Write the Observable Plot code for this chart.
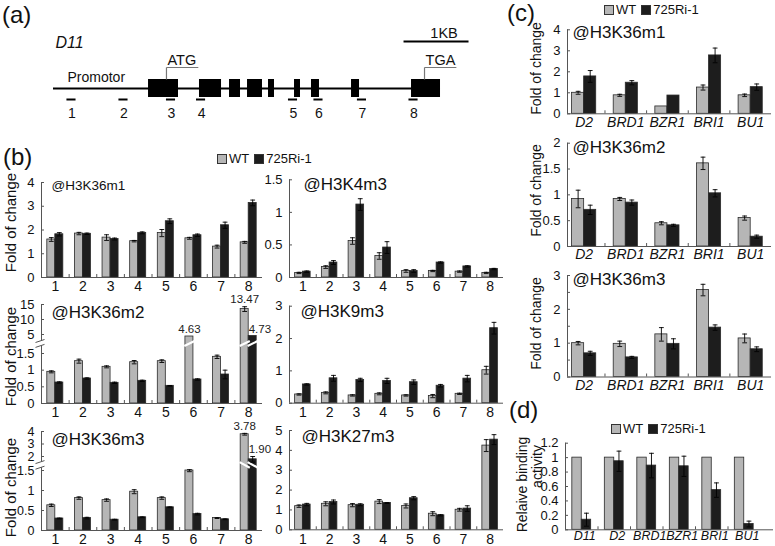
<!DOCTYPE html>
<html>
<head>
<meta charset="utf-8">
<script src="https://cdn.jsdelivr.net/npm/d3@7"></script>
<script src="https://cdn.jsdelivr.net/npm/@observablehq/plot@0.6"></script>
<style>
  body { margin: 0; background: #fff; }
  #fig { position: relative; width: 775px; height: 546px; overflow: hidden; background: #fff;
         font-family: "Liberation Sans", Arial, sans-serif; color: #111; }
  .tag { position: absolute; font-size: 24px; line-height: 1; }
  .legend { position: absolute; display: flex; align-items: center; font-size: 13px; line-height: 1; white-space: nowrap; }
  .legend .sw { width: 8px; height: 8px; border: 1px solid #333; display: inline-block; margin-right: 2px; }
  .legend .gap { width: 5px; }
  .chart { position: absolute; }
  .chart svg { overflow: visible; }
</style>
</head>
<body>
<div id="fig"></div>
<script>
// ---------- gene model of D11 (positions in bp from the start of the promoter line) ----------
const geneLength = 5954;
const exons = [[1462, 1923], [2246, 2585], [2708, 2877], [2985, 3215], [3308, 3400],
               [3708, 3800], [3969, 4092], [4585, 4708], [5508, 5954]];
const codons = [{pos: 1738, name: "ATG"}, {pos: 5708, name: "TGA"}];
const primerSites = [269, 1069, 1800, 2262, 3677, 4069, 4738, 5531];
const sites = ["1", "2", "3", "4", "5", "6", "7", "8"];
const scaleBar = [5385, 6385];

// ---------- (b) ChIP at the D11 locus ----------
const h3k36m1Wt    = [1.60, 1.85, 1.68, 1.53, 1.87, 1.65, 1.30, 1.48];
const h3k36m1WtErr = [0.08, 0.05, 0.12, 0.03, 0.15, 0.04, 0.06, 0.04];
const h3k36m1Ri    = [1.82, 1.84, 1.62, 1.88, 2.37, 1.78, 2.20, 3.14];
const h3k36m1RiErr = [0.07, 0.03, 0.04, 0.04, 0.10, 0.05, 0.13, 0.12];

const h3k4m3Wt    = [0.07, 0.16, 0.56, 0.33, 0.10, 0.10, 0.09, 0.07];
const h3k4m3WtErr = [0.01, 0.02, 0.05, 0.05, 0.02, 0.01, 0.01, 0.01];
const h3k4m3Ri    = [0.09, 0.23, 1.12, 0.46, 0.10, 0.23, 0.17, 0.13];
const h3k4m3RiErr = [0.01, 0.03, 0.09, 0.09, 0.02, 0.01, 0.01, 0.01];

const h3k36m2Wt    = [0.95, 1.27, 1.10, 1.24, 1.27, 4.63, 1.40, 13.47];
const h3k36m2WtErr = [0.03, 0.06, 0.03, 0.05, 0.04, 0.00, 0.05, 0.80];
const h3k36m2Ri    = [0.63, 0.75, 0.62, 0.68, 0.53, 0.72, 0.87, 4.73];
const h3k36m2RiErr = [0.02, 0.02, 0.02, 0.02, 0.01, 0.02, 0.13, 0.00];

const h3k9m3Wt    = [0.27, 0.32, 0.24, 0.29, 0.24, 0.22, 0.29, 1.02];
const h3k9m3WtErr = [0.02, 0.03, 0.02, 0.03, 0.02, 0.05, 0.02, 0.12];
const h3k9m3Ri    = [0.58, 0.77, 0.72, 0.69, 0.65, 0.54, 0.76, 2.32];
const h3k9m3RiErr = [0.02, 0.09, 0.05, 0.08, 0.07, 0.04, 0.10, 0.18];

const h3k36m3Wt    = [0.63, 0.81, 0.76, 0.97, 0.81, 1.50, 0.31, 3.78];
const h3k36m3WtErr = [0.03, 0.03, 0.03, 0.05, 0.03, 0.03, 0.01, 0.07];
const h3k36m3Ri    = [0.30, 0.31, 0.27, 0.33, 0.58, 0.41, 0.28, 1.90];
const h3k36m3RiErr = [0.01, 0.02, 0.01, 0.01, 0.01, 0.02, 0.01, 0.10];

const h3k27m3Wt    = [1.19, 1.31, 1.24, 1.42, 1.20, 0.81, 1.01, 4.24];
const h3k27m3WtErr = [0.06, 0.10, 0.08, 0.10, 0.10, 0.10, 0.07, 0.30];
const h3k27m3Ri    = [1.27, 1.40, 1.26, 1.35, 1.59, 0.73, 1.07, 4.54];
const h3k27m3RiErr = [0.06, 0.10, 0.05, 0.02, 0.08, 0.03, 0.14, 0.25];

// ---------- (c) ChIP at BR pathway genes ----------
const brGenes = ["D2", "BRD1", "BZR1", "BRI1", "BU1"];
const cM1Wt    = [1.00, 0.88, 0.35, 1.25, 0.88];
const cM1WtErr = [0.07, 0.05, 0.00, 0.12, 0.06];
const cM1Ri    = [1.78, 1.48, 0.87, 2.78, 1.27];
const cM1RiErr = [0.28, 0.10, 0.00, 0.35, 0.15];

const cM2Wt    = [0.92, 0.92, 0.45, 1.61, 0.55];
const cM2WtErr = [0.17, 0.03, 0.03, 0.12, 0.04];
const cM2Ri    = [0.71, 0.85, 0.41, 1.03, 0.19];
const cM2RiErr = [0.09, 0.05, 0.02, 0.07, 0.03];

const cM3Wt    = [1.00, 0.98, 1.26, 2.57, 1.14];
const cM3WtErr = [0.05, 0.08, 0.20, 0.17, 0.13];
const cM3Ri    = [0.70, 0.58, 0.98, 1.46, 0.82];
const cM3RiErr = [0.06, 0.03, 0.15, 0.08, 0.07];

// ---------- (d) relative binding ----------
const bindGenes = ["D11", "D2", "BRD1", "BZR1", "BRI1", "BU1"];
const bindWt    = [1, 1, 1, 1, 1, 1];
const bindRi    = [0.14, 0.95, 0.89, 0.88, 0.55, 0.08];
const bindRiErr = [0.09, 0.14, 0.17, 0.14, 0.10, 0.04];

// ---------- drawing ----------
const SERIES = ["WT", "725Ri-1"];
const FILLS = ["#b6b6b6", "#1d1d1d"];
const AXIS = "#555";
const BAR_HALF = 0.29;
const FONT = "Liberation Sans, Arial, sans-serif";
const fig = document.getElementById("fig");

function place(node, left, top) {
  const div = document.createElement("div");
  div.className = "chart";
  div.style.left = left + "px";
  div.style.top = top + "px";
  div.appendChild(node);
  fig.appendChild(div);
}

function addHtml(cls, html, left, top) {
  const div = document.createElement("div");
  div.className = cls;
  div.style.left = left + "px";
  div.style.top = top + "px";
  div.innerHTML = html;
  fig.appendChild(div);
}

function legend(left, top) {
  addHtml("legend",
    `<span class="sw" style="background:${FILLS[0]}"></span>${SERIES[0]}<span class="gap"></span>` +
    `<span class="sw" style="background:${FILLS[1]}"></span>${SERIES[1]}`, left, top);
}

// Grouped WT / 725Ri-1 bars with error bars. A y axis may be broken: values are first
// sent through a piecewise map (segments of different unit length), then through Plot's y scale.
function barChart(c) {
  const [left, top, width, height] = c.box;
  const x0 = c.frameX[0] - left, x1 = c.frameX[1] - left;
  const basePage = c.yPix[0];
  const topPage = c.yPix[c.yPix.length - 1];
  const span = basePage - topPage;
  const yMap = d3.scaleLinear().domain(c.yDomain).range(c.yPix.map(p => basePage - p));
  const yMax = c.yDomain[c.yDomain.length - 1];
  const xMin = c.xDomain[0];

  const rows = [];
  c.cats.forEach((cat, k) => {
    rows.push({i: k + 1, s: SERIES[0], v: c.wt[k], e: c.wtErr ? c.wtErr[k] : 0});
    rows.push({i: k + 1, s: SERIES[1], v: c.ri[k], e: c.riErr ? c.riErr[k] : 0});
  });
  const xl = d => d.s === SERIES[0] ? d.i - BAR_HALF : d.i;
  const xr = d => d.s === SERIES[0] ? d.i : d.i + BAR_HALF;
  const xc = d => (xl(d) + xr(d)) / 2;
  const unitPx = (x1 - x0) / (c.xDomain[1] - c.xDomain[0]);
  const cap = 2.4 / unitPx;
  const withErr = rows.filter(d => d.e > 0);
  const ticks = c.cats.map((_, k) => k + 1);
  const bounds = c.cats.slice(1).map((_, k) => k + 1.5);
  const tickLabel = new Map(c.yTicks.map(t => [yMap(t), String(t)]));

  const marks = [];
  marks.push(Plot.rect(rows, {x1: xl, x2: xr, y1: 0, y2: d => yMap(d.v), fill: "s", stroke: "#2a2a2a", strokeWidth: 0.8}));
  if (c.brk) {
    const tall = rows.filter(d => d.v > c.brk.top);
    marks.push(Plot.link(tall, {
      x1: d => xl(d) - 0.04, x2: d => xr(d) + 0.04,
      y1: yMap(c.brk.rise ? c.brk.lo : c.brk.hi), y2: yMap(c.brk.rise ? c.brk.hi : c.brk.lo),
      stroke: "#fff", strokeWidth: 2.2
    }));
  }
  marks.push(Plot.ruleX(withErr, {x: xc, y1: d => yMap(d.v - d.e), y2: d => yMap(d.v + d.e), stroke: "#000", strokeWidth: 0.9}));
  marks.push(Plot.link(withErr, {x1: d => xc(d) - cap, x2: d => xc(d) + cap, y1: d => yMap(d.v + d.e), y2: d => yMap(d.v + d.e), stroke: "#000", strokeWidth: 0.9}));
  marks.push(Plot.link(withErr, {x1: d => xc(d) - cap, x2: d => xc(d) + cap, y1: d => yMap(d.v - d.e), y2: d => yMap(d.v - d.e), stroke: "#000", strokeWidth: 0.9}));
  if (c.brk) {
    const tall = rows.filter(d => d.v > c.brk.top);
    marks.push(Plot.text(tall.filter(d => d.s === SERIES[0]), {
      x: xc, y: d => yMap(d.v + d.e), text: d => d.v.toFixed(2), dy: -7, fontSize: 11.5, textAnchor: "middle", fill: "#222"
    }));
    marks.push(Plot.text(tall.filter(d => d.s === SERIES[1]), {
      x: xc, y: d => yMap(d.v + d.e), text: d => d.v.toFixed(2), dy: -7, dx: -4, fontSize: 11.5, textAnchor: "start", fill: "#222"
    }));
  }
  // axis lines (the y axis is split at a break)
  marks.push(Plot.ruleY([0], {stroke: AXIS, strokeWidth: 1}));
  if (c.brk) {
    marks.push(Plot.ruleX([xMin], {y1: 0, y2: yMap(c.brk.lo), stroke: AXIS}));
    marks.push(Plot.ruleX([xMin], {y1: yMap(c.brk.hi), y2: yMap(yMax), stroke: AXIS}));
    const k = 3 / unitPx;
    marks.push(Plot.link([c.brk.lo, c.brk.hi], {x1: xMin - 2 * k, x2: xMin + k, y1: d => yMap(d) - 1.5, y2: d => yMap(d) + 1.5, stroke: AXIS}));
  } else {
    marks.push(Plot.ruleX([xMin], {y1: 0, y2: yMap(yMax), stroke: AXIS}));
  }
  marks.push(Plot.axisY({ticks: c.yTicks.map(yMap), tickFormat: p => tickLabel.get(p), label: null,
    tickSize: 3, dx: 3, tickPadding: 7, fontSize: c.yFont || 13, stroke: AXIS}));
  if (c.yMinor) marks.push(Plot.axisY({ticks: c.yMinor.map(yMap), tickFormat: () => "", label: null, tickSize: 3, dx: 3, stroke: AXIS}));
  marks.push(Plot.axisX({ticks: bounds, tickFormat: () => "", label: null, tickSize: 3, dy: -3, stroke: AXIS}));
  marks.push(Plot.axisX({
    ticks, tickFormat: i => c.cats[i - 1], label: null, tickSize: 0, tickPadding: c.xPad, dx: c.xDx || 0,
    fontSize: c.xFont, fontStyle: c.italic ? "italic" : "normal", fill: "#111"
  }));
  if (c.title) {
    marks.push(Plot.text([c.title], {
      frameAnchor: "top-left", dx: c.titlePos[0] - c.frameX[0], dy: c.titlePos[1] - topPage,
      textAnchor: "start", lineAnchor: "middle", fontSize: c.titleSize, fill: "#111"
    }));
  }
  (c.ylabels || []).forEach(([label, lx, ly, size]) => {
    marks.push(Plot.text([label], {
      frameAnchor: "top-left", dx: lx - c.frameX[0], dy: ly - topPage, rotate: -90,
      textAnchor: "middle", lineAnchor: "middle", fontSize: size, fill: "#111"
    }));
  });

  const svg = Plot.plot({
    width, height,
    marginLeft: x0, marginRight: width - x1,
    marginTop: topPage - top, marginBottom: top + height - basePage,
    x: {domain: c.xDomain},
    y: {domain: [0, span]},
    color: {domain: SERIES, range: FILLS},
    style: {background: "transparent", overflow: "visible", fontFamily: FONT, fontSize: "13px"},
    marks
  });
  place(svg, left, top);
}

// ---------- (a) ----------
{
  const W = 480, H = 125, startPx = 53, pxPerBp = 0.065;
  const row = {scaleBar: 41, scaleText: 33, name: 42, codonText: 60, callout: 67, promoter: 77,
               exonTop: 79, gene: 88, exonBottom: 97, primer: 99, primerText: 113};
  const svg = Plot.plot({
    width: W, height: H, margin: 0,
    x: {domain: [-startPx / pxPerBp, (W - startPx) / pxPerBp], axis: null},
    y: {domain: [0, H], range: [0, H], axis: null},
    style: {background: "transparent", overflow: "visible", fontFamily: FONT},
    marks: [
      Plot.ruleY([row.gene], {x1: 0, x2: geneLength, stroke: "#000", strokeWidth: 2}),
      Plot.rect(exons, {x1: d => d[0], x2: d => d[1], y1: row.exonTop, y2: row.exonBottom, fill: "#000"}),
      Plot.link(codons, {x1: "pos", x2: "pos", y1: row.exonTop, y2: row.callout, stroke: "#777", strokeWidth: 1.2}),
      Plot.link(codons, {x1: "pos", x2: d => d.pos + 490, y1: row.callout, y2: row.callout, stroke: "#777", strokeWidth: 1.2}),
      Plot.text(codons, {x: "pos", y: row.codonText, text: "name", textAnchor: "start", dx: 1, fontSize: 14.5, fill: "#111"}),
      Plot.text(["Promotor"], {x: 0, y: row.promoter, text: d => d, textAnchor: "start", dx: 14, fontSize: 14, fill: "#111"}),
      Plot.text(["D11"], {x: 0, y: row.name, text: d => d, textAnchor: "start", dx: 2, fontSize: 16, fontStyle: "italic", fill: "#111"}),
      Plot.link(primerSites, {x1: d => d - 70, x2: d => d + 70, y1: row.primer, y2: row.primer, stroke: "#000", strokeWidth: 2}),
      Plot.text(primerSites, {x: d => d, y: row.primerText, text: (d, i) => sites[i], dx: 1, fontSize: 14, fill: "#111"}),
      Plot.link([scaleBar], {x1: d => d[0], x2: d => d[1], y1: row.scaleBar, y2: row.scaleBar, stroke: "#000", strokeWidth: 2}),
      Plot.text([scaleBar], {x: d => (d[0] + d[1]) / 2, y: row.scaleText, text: () => "1KB", dx: 8, fontSize: 14.5, fill: "#111"})
    ]
  });
  place(svg, 0, 0);
}

// ---------- (b) ----------
const colL = {frameX: [41, 262], xDomain: [0.5, 8.5]};
const colR = {frameX: [289, 503], xDomain: [0.5, 8.5]};
const bCommon = {cats: sites, xPad: 4, xFont: 14, titleSize: 17};

barChart({...bCommon, ...colL, box: [0, 168, 268, 132],
  yDomain: [0, 4], yPix: [277, 182], yTicks: [0, 1, 2, 3, 4],
  wt: h3k36m1Wt, wtErr: h3k36m1WtErr, ri: h3k36m1Ri, riErr: h3k36m1RiErr,
  title: "@H3K36m1", titlePos: [51, 185], titleSize: 13.5,
  ylabels: [["Fold of change", 11, 222, 15]]});

barChart({...bCommon, ...colR, box: [268, 168, 240, 132],
  yDomain: [0, 1.5], yPix: [277, 179.3], yTicks: [0, 0.5, 1, 1.5],
  wt: h3k4m3Wt, wtErr: h3k4m3WtErr, ri: h3k4m3Ri, riErr: h3k4m3RiErr,
  title: "@H3K4m3", titlePos: [303, 184]});

barChart({...bCommon, ...colL, box: [0, 296, 268, 130],
  yDomain: [0, 1.5, 5, 15], yPix: [403, 353, 334, 304], yTicks: [0, 0.5, 1, 1.5, 5, 10, 15],
  brk: {top: 1.5, lo: 2.9, hi: 3.8, rise: true},
  wt: h3k36m2Wt, wtErr: h3k36m2WtErr, ri: h3k36m2Ri, riErr: h3k36m2RiErr,
  title: "@H3K36m2", titlePos: [51, 312],
  ylabels: [["Fold of change", 11, 356, 15]]});

barChart({...bCommon, ...colR, box: [268, 296, 240, 130],
  yDomain: [0, 3], yPix: [402.7, 305.7], yTicks: [0, 1, 2, 3],
  wt: h3k9m3Wt, wtErr: h3k9m3WtErr, ri: h3k9m3Ri, riErr: h3k9m3RiErr,
  title: "@H3K9m3", titlePos: [300, 311]});

barChart({...bCommon, ...colL, box: [0, 422, 268, 124],
  yDomain: [0, 1.5, 2, 4], yPix: [530, 470, 456, 431], yTicks: [0, 0.5, 1, 1.5, 2, 3, 4], yFont: 12.5,
  brk: {top: 1.5, lo: 1.6, hi: 1.8, rise: false},
  wt: h3k36m3Wt, wtErr: h3k36m3WtErr, ri: h3k36m3Ri, riErr: h3k36m3RiErr,
  title: "@H3K36m3", titlePos: [51, 439],
  ylabels: [["Fold of change", 11, 487, 15]]});

barChart({...bCommon, ...colR, box: [268, 422, 240, 124],
  yDomain: [0, 5], yPix: [529.3, 430], yTicks: [0, 1, 2, 3, 4, 5],
  wt: h3k27m3Wt, wtErr: h3k27m3WtErr, ri: h3k27m3Ri, riErr: h3k27m3RiErr,
  title: "@H3K27m3", titlePos: [301, 436]});

// ---------- (c) ----------
const cCommon = {cats: brGenes, frameX: [567, 771], xDomain: [0.6, 5.5], xPad: 3, xFont: 14, italic: true, titleSize: 17};

barChart({...cCommon, box: [500, 18, 275, 115],
  yDomain: [0, 4], yPix: [113.3, 29.3], yTicks: [0, 1, 2, 3, 4],
  wt: cM1Wt, wtErr: cM1WtErr, ri: cM1Ri, riErr: cM1RiErr,
  title: "@H3K36m1", titlePos: [572, 32],
  ylabels: [["Fold of change", 536, 68, 14]]});

barChart({...cCommon, box: [500, 135, 275, 130],
  yDomain: [0, 2], yPix: [246, 142.7], yTicks: [0, 0.5, 1, 1.5, 2],
  wt: cM2Wt, wtErr: cM2WtErr, ri: cM2Ri, riErr: cM2RiErr,
  title: "@H3K36m2", titlePos: [572, 147],
  ylabels: [["Fold of change", 536, 190, 14]]});

barChart({...cCommon, box: [500, 268, 275, 128],
  yDomain: [0, 3], yPix: [376.5, 275], yTicks: [0, 1, 2, 3], yMinor: [0.5, 1.5, 2.5],
  wt: cM3Wt, wtErr: cM3WtErr, ri: cM3Ri, riErr: cM3RiErr,
  title: "@H3K36m3", titlePos: [572, 279],
  ylabels: [["Fold of change", 536, 323, 14]]});

// ---------- (d) ----------
barChart({cats: bindGenes, frameX: [565, 773], xDomain: [0.5, 6.9], xPad: 1, xFont: 12.5, xDx: 3, italic: true,
  box: [500, 436, 275, 110],
  yDomain: [0, 1.2], yPix: [529.3, 442.7], yTicks: [0, 0.2, 0.4, 0.6, 0.8, 1, 1.2],
  wt: bindWt, wtErr: null, ri: bindRi, riErr: bindRiErr,
  ylabels: [["Relaive binding", 522, 484, 14], ["activity", 537, 466, 14]]});

// ---------- panel tags and legends ----------
addHtml("tag", "(a)", 2, 3);
addHtml("tag", "(b)", 3, 145);
addHtml("tag", "(c)", 507, 1);
addHtml("tag", "(d)", 509, 398);
legend(217, 152);
legend(604, 3);
legend(611, 422);
</script>
</body>
</html>
